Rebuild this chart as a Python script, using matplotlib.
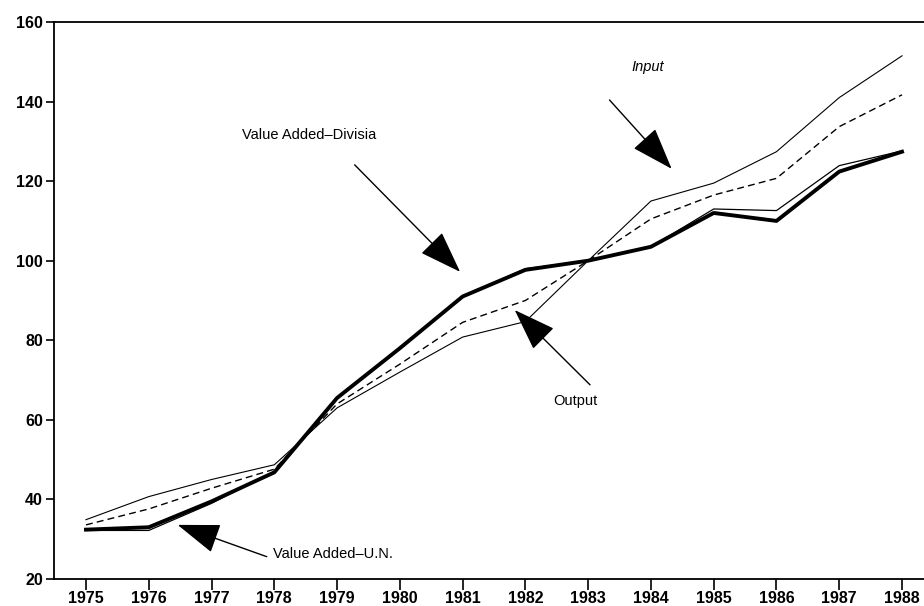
import matplotlib
matplotlib.use("Agg")
import matplotlib.pyplot as plt

# index values, 1983 = 100
years = list(range(1975, 1989))
va_divisia = [32.4, 33.0, 39.5, 46.8, 65.5, 78.0, 91.0, 97.7, 100.0, 103.5, 112.0, 110.0, 122.4, 127.4]
va_un = [32.2, 32.2, 39.0, 47.0, 65.5, 78.0, 91.0, 98.0, 100.0, 103.5, 113.0, 112.6, 123.9, 127.6]
output = [33.6, 37.6, 42.8, 47.6, 64.0, 74.0, 84.5, 90.0, 100.0, 110.5, 116.5, 120.7, 133.7, 141.7]
inputs = [34.9, 40.7, 45.0, 48.7, 63.0, 72.0, 80.8, 84.7, 100.0, 115.0, 119.5, 127.4, 141.0, 151.5]

y_ticks = [20, 40, 60, 80, 100, 120, 140, 160]

plt.rcParams["font.family"] = ["Liberation Sans", "DejaVu Sans"]

fig = plt.figure(figsize=(9.24, 6.06), dpi=100)
ax = fig.add_axes([0.0584, 0.0446, 0.9416, 0.9191])

ax.plot(years, inputs, color="k", linewidth=0.8)
ax.plot(years, output, color="k", linewidth=1.0, dashes=(5, 3))
ax.plot(years, va_un, color="k", linewidth=0.9)
ax.plot(years, va_divisia, color="k", linewidth=2.8)

ax.set_xlim(1974.49, 1988.35)
ax.set_ylim(20, 160)
ax.set_xticks(years)
ax.set_yticks(y_ticks)
ax.tick_params(axis="both", direction="out", width=1.2, labelsize=11.5)
ax.tick_params(axis="x", length=8, pad=1)
ax.tick_params(axis="y", length=6, pad=2)
for label in ax.get_xticklabels() + ax.get_yticklabels():
    label.set_fontweight("bold")

ax.spines["right"].set_visible(False)
for side in ("left", "bottom", "top"):
    ax.spines[side].set_linewidth(1.3)

arrow = dict(arrowstyle="-|>,head_length=2.7,head_width=0.95", color="k",
             linewidth=1.0, shrinkA=0, shrinkB=0)

ax.annotate("", xy=(1980.96, 97.2), xytext=(1979.28, 124.1), arrowprops=arrow)
ax.text(1978.55, 131.6, "Value Added\u2013Divisia", ha="center", va="center", fontsize=10.5)

ax.annotate("", xy=(1984.33, 123.1), xytext=(1983.34, 140.4), arrowprops=arrow)
ax.text(1983.95, 148.7, "Input", ha="center", va="center", fontsize=10.5, style="italic")

ax.annotate("", xy=(1981.83, 87.6), xytext=(1983.03, 68.8), arrowprops=arrow)
ax.text(1982.79, 64.8, "Output", ha="center", va="center", fontsize=10.5)

ax.annotate("", xy=(1976.46, 33.6), xytext=(1977.88, 25.6), arrowprops=arrow)
ax.text(1977.98, 26.3, "Value Added\u2013U.N.", ha="left", va="center", fontsize=10.5)

fig.savefig("out.png", dpi=100)
